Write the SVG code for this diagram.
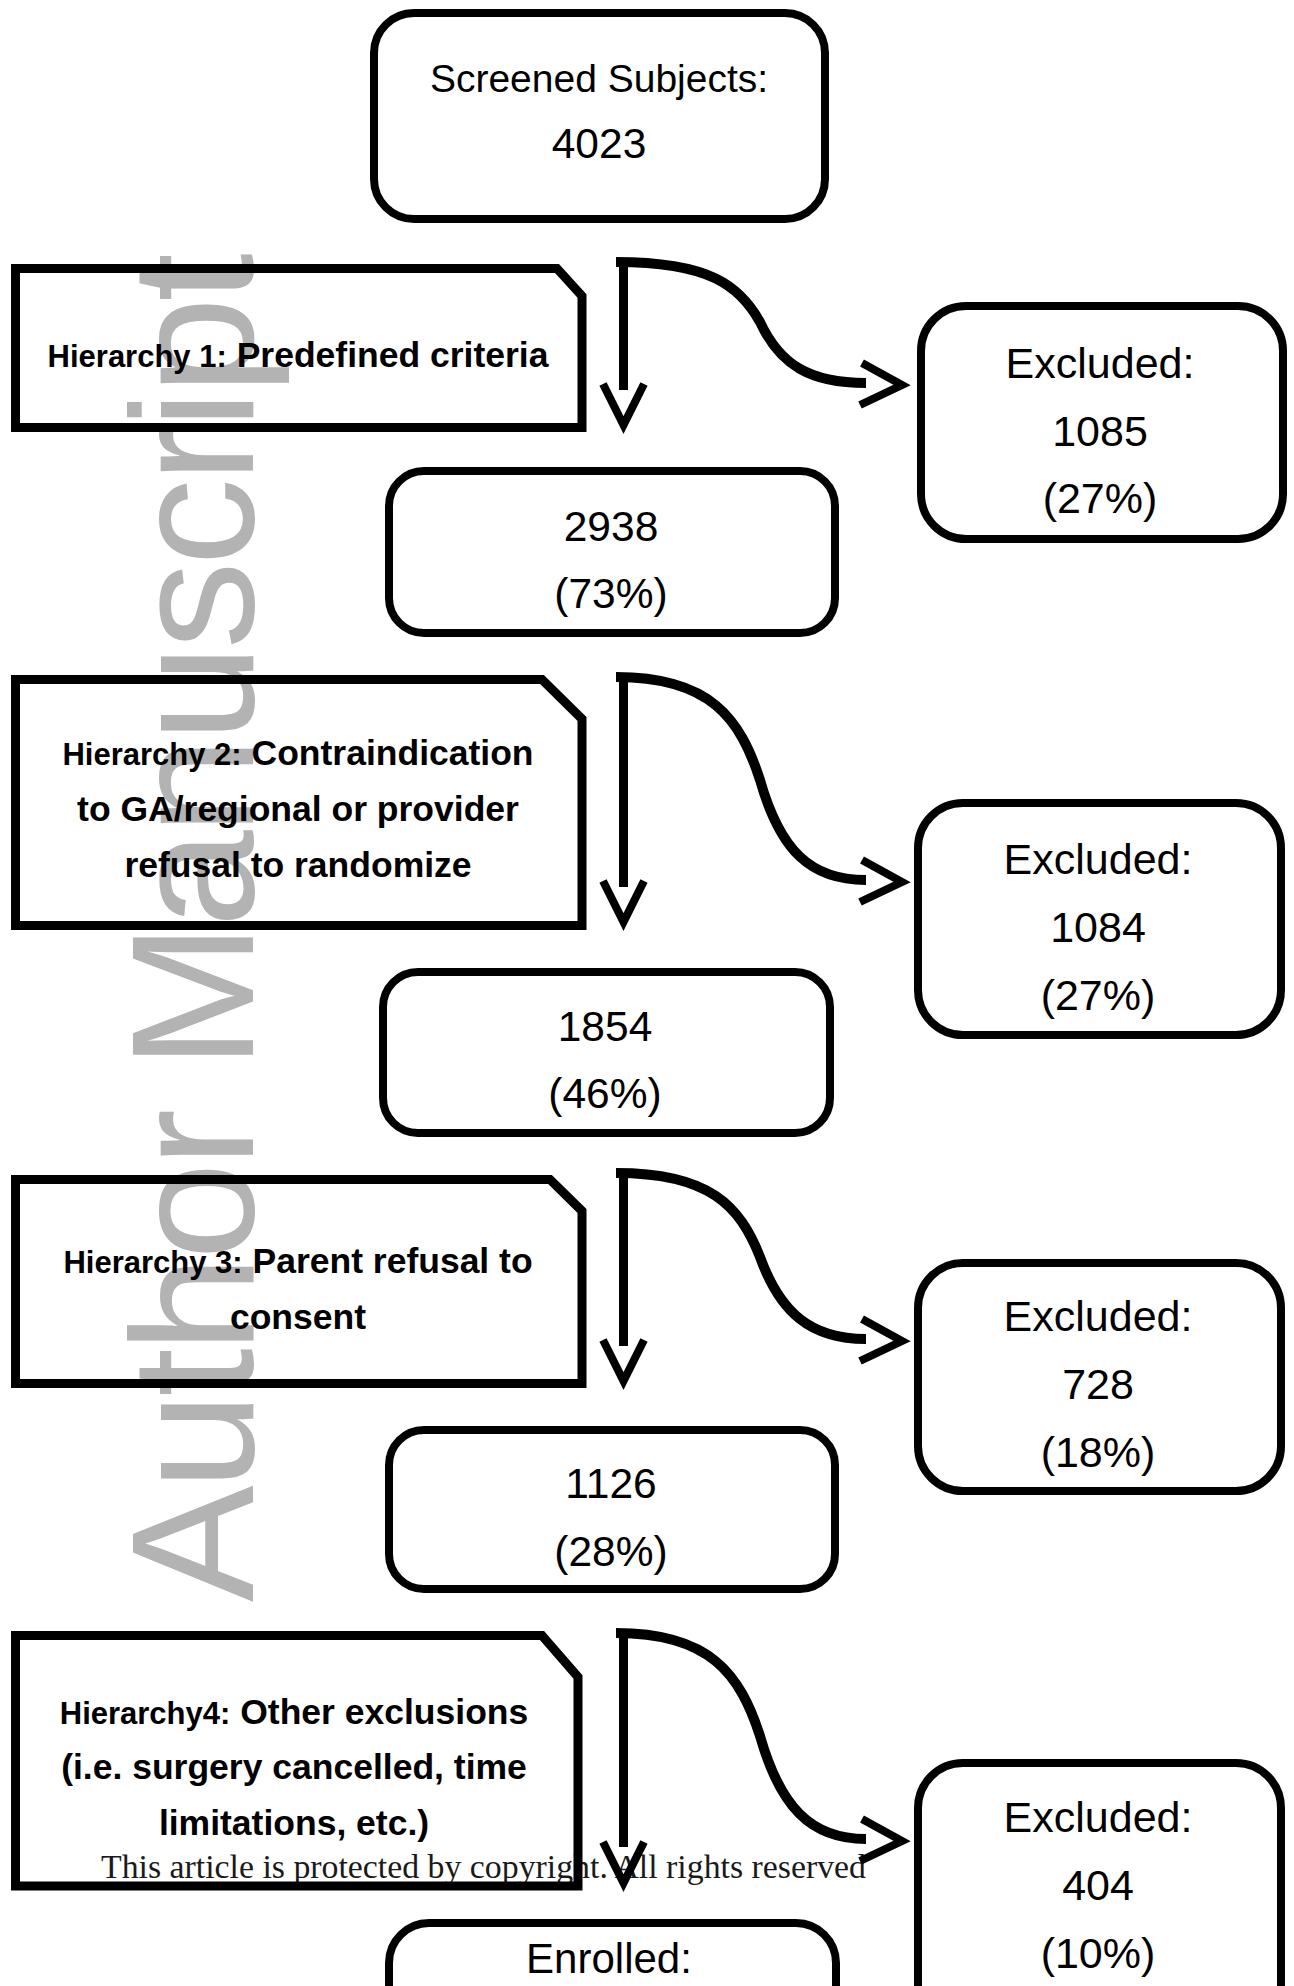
<svg xmlns="http://www.w3.org/2000/svg" width="1294" height="1986" viewBox="0 0 1294 1986">
<style>
.bg{fill:#fff}
.wm{font-family:"Liberation Sans",Arial,sans-serif;font-size:175px;fill:#b3b3b3}
.box{fill:none;stroke:#000;stroke-width:8}
.hbox{fill:none;stroke:#000;stroke-width:9;stroke-linejoin:miter}
.t{font-family:"Liberation Sans",Arial,sans-serif;font-size:39px;text-anchor:middle;fill:#000}
.n{font-size:42.5px}
.ex{font-size:43px}
.en{font-size:42px}
.hb{font-family:"Liberation Sans",Arial,sans-serif;font-weight:bold;font-size:35.5px;text-anchor:middle;fill:#000}
.hs{font-size:31px}
.cr{font-family:"Liberation Serif","Times New Roman",serif;font-size:33px;fill:#1a1a1a}
.curve{fill:none;stroke:#000;stroke-width:10}
.vl{fill:none;stroke:#000;stroke-width:9}
.ah{fill:none;stroke:#000;stroke-width:8;stroke-linejoin:miter;stroke-miterlimit:10}
</style>
<rect class="bg" x="0" y="0" width="1294" height="1986"/>
<text class="wm" transform="translate(253,1602) rotate(-90)" textLength="1349" lengthAdjust="spacing">Author Manuscript</text>
<text class="cr" x="101" y="1878" textLength="765" lengthAdjust="spacingAndGlyphs">This article is protected by copyright. All rights reserved</text>

<g id="screened">
<rect class="box" x="374" y="13" width="451" height="206" rx="40"/>
<text class="t" x="599" y="92">Screened Subjects:</text>
<text class="t n" x="599" y="158">4023</text>
</g>

<g id="h1">
<polygon class="hbox" points="15.5,268.5 557,268.5 582,296 582,427.5 15.5,427.5"/>
<text class="hb" x="298" y="367"><tspan class="hs">Hierarchy 1:</tspan> Predefined criteria</text>
</g>
<g id="ex1">
<rect class="box" x="921" y="306" width="362" height="233" rx="45"/>
<text class="t ex" x="1100" y="378">Excluded:</text>
<text class="t ex" x="1100" y="446">1085</text>
<text class="t ex" x="1100" y="513">(27%)</text>
</g>
<g id="n2938">
<rect class="box" x="389" y="471" width="446" height="162" rx="35"/>
<text class="t n" x="611" y="541">2938</text>
<text class="t n" x="611" y="608">(73%)</text>
</g>

<g id="h2">
<polygon class="hbox" points="15.5,679.5 542,679.5 582,719 582,925.5 15.5,925.5"/>
<text class="hb" x="298" y="765"><tspan class="hs">Hierarchy 2:</tspan> Contraindication</text>
<text class="hb" x="298" y="821">to GA/regional or provider</text>
<text class="hb" x="298" y="877">refusal to randomize</text>
</g>
<g id="ex2">
<rect class="box" x="918" y="803" width="363" height="232" rx="45"/>
<text class="t ex" x="1098" y="874">Excluded:</text>
<text class="t ex" x="1098" y="942">1084</text>
<text class="t ex" x="1098" y="1010">(27%)</text>
</g>
<g id="n1854">
<rect class="box" x="383" y="972" width="447" height="161" rx="35"/>
<text class="t n" x="605" y="1041">1854</text>
<text class="t n" x="605" y="1108">(46%)</text>
</g>

<g id="h3">
<polygon class="hbox" points="15.5,1179.5 550,1179.5 582,1211 582,1383.5 15.5,1383.5"/>
<text class="hb" x="298" y="1273"><tspan class="hs">Hierarchy 3:</tspan> Parent refusal to</text>
<text class="hb" x="298" y="1329">consent</text>
</g>
<g id="ex3">
<rect class="box" x="918" y="1263" width="363" height="228" rx="45"/>
<text class="t ex" x="1098" y="1331">Excluded:</text>
<text class="t ex" x="1098" y="1399">728</text>
<text class="t ex" x="1098" y="1467">(18%)</text>
</g>
<g id="n1126">
<rect class="box" x="389" y="1430" width="446" height="159" rx="35"/>
<text class="t n" x="611" y="1498">1126</text>
<text class="t n" x="611" y="1566">(28%)</text>
</g>

<g id="h4">
<polygon class="hbox" points="15.5,1635.5 542,1635.5 578,1677 578,1886 15.5,1886"/>
<text class="hb" x="294" y="1724"><tspan class="hs">Hierarchy4:</tspan> Other exclusions</text>
<text class="hb" x="294" y="1779">(i.e. surgery cancelled, time</text>
<text class="hb" x="294" y="1835">limitations, etc.)</text>
</g>
<g id="ex4">
<rect class="box" x="918" y="1763" width="363" height="300" rx="45"/>
<text class="t ex" x="1098" y="1832">Excluded:</text>
<text class="t ex" x="1098" y="1900">404</text>
<text class="t ex" x="1098" y="1968">(10%)</text>
</g>
<g id="enrolled">
<rect class="box" x="389" y="1923" width="447" height="200" rx="40"/>
<text class="t en" x="609" y="1973">Enrolled:</text>
</g>

<g id="connectors">
<path class="curve" d="M616,262 C710,262 740,286 760,322 C780,365 810,383 866,383"/>
<path class="vl" d="M623.5,262 V390"/>
<polyline class="ah" points="603,384 623.5,425 644,384"/>
<polyline class="ah" points="862,363 902,385 860,405"/>

<path class="curve" d="M616,677 C710,677 740,718 760,780 C780,850 810,880 866,880"/>
<path class="vl" d="M623.5,677 V887"/>
<polyline class="ah" points="603,881 623.5,922 644,881"/>
<polyline class="ah" points="862,860 902,882 860,902"/>

<path class="curve" d="M616,1173 C710,1173 740,1206 760,1257 C780,1312 810,1339 866,1339"/>
<path class="vl" d="M623.5,1173 V1346"/>
<polyline class="ah" points="603,1340 623.5,1381 644,1340"/>
<polyline class="ah" points="862,1319 902,1341 860,1361"/>

<path class="curve" d="M616,1633 C710,1633 740,1674 760,1736 C780,1806 810,1839 866,1839"/>
<path class="vl" d="M623.5,1633 V1847"/>
<polyline class="ah" points="603,1842 623.5,1883 644,1842"/>
<polyline class="ah" points="862,1819 902,1841 860,1861"/>
</g>
</svg>
